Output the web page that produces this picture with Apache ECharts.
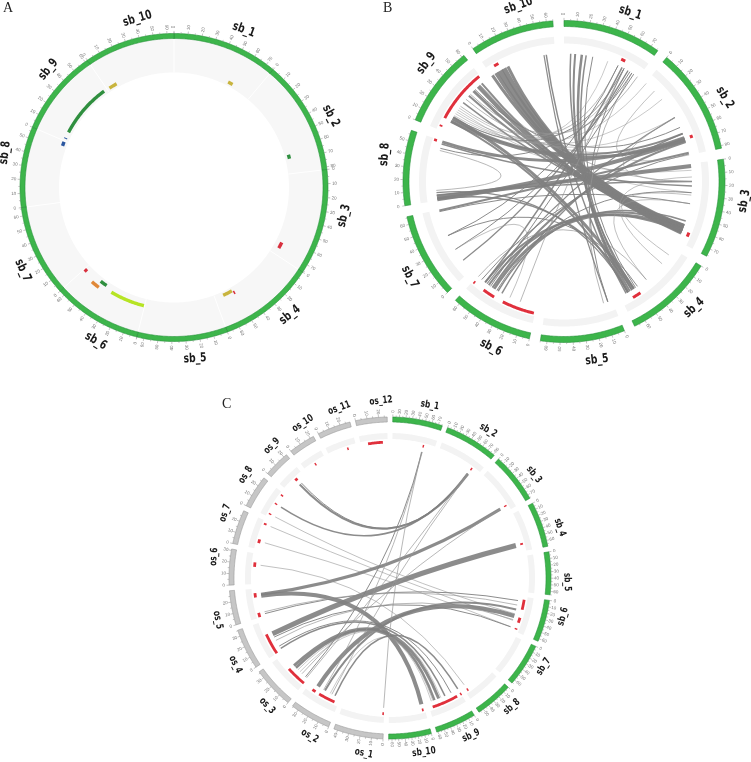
<!DOCTYPE html>
<html><head><meta charset="utf-8">
<script src="https://cdn.jsdelivr.net/npm/echarts@6/dist/echarts.min.js"></script>
<style>html,body{margin:0;padding:0;background:#fff}#c{width:751px;height:762px}</style>
</head><body><div id="c"></div>
<script>
// ================= DATA =================
const sbNames = ['sb_1','sb_2','sb_3','sb_4','sb_5','sb_6','sb_7','sb_8','sb_9','sb_10'];
const sbLengths = [76, 82, 76, 69, 65, 64, 66, 58, 62, 65];           // Mb
const osNames = ['os_1','os_2','os_3','os_4','os_5','os_6','os_7','os_8','os_9','os_10','os_11','os_12'];
const osLengths = [43.3, 35.9, 36.4, 35.5, 29.9, 31.2, 29.7, 28.4, 23.0, 23.2, 29.0, 27.5]; // Mb

// Panel A: feature tiles [chromosome, start Mb, end Mb, class]
const tilesA = [
  ['sb_1', 51.6, 56.2, 'F1'],
  ['sb_2', 64.4, 68.2, 'F2'],
  ['sb_3', 64.0, 69.7, 'F3'],
  ['sb_4', 52.0, 61.0, 'F1'],
  ['sb_4', 50.2, 51.6, 'F3'],
  ['sb_6', 0.6, 32.1, 'F4'],
  ['sb_6', 39.0, 45.6, 'F2'],
  ['sb_6', 43.7, 51.3, 'F5'],
  ['sb_6', 60.8, 63.6, 'F3'],
  ['sb_8', 53.1, 57.0, 'F6'],
  ['sb_9', 2.2, 3.0, 'F6'],
  ['sb_9', 8.6, 58.7, 'F2'],
  ['sb_10', 2.4, 10.0, 'F1']
];

// Panel B: highlighted regions [chromosome, start Mb, end Mb]
const regionsB = [
  ['sb_1', 53.5, 57.5], ['sb_2', 64.5, 67.5], ['sb_3', 64.5, 68.5], ['sb_4', 51, 59],
  ['sb_6', 1, 31], ['sb_6', 40, 51.5], ['sb_6', 61.5, 63], ['sb_8', 55.5, 57.8],
  ['sb_9', 3.3, 4.8], ['sb_9', 11.7, 61], ['sb_10', 7, 11.5]
];
// Panel B: links [chrA, posA, chrB, posB, size]
const linksB = [
  ['sb_10', 9.5, 'sb_3', 63.9, 6], ['sb_10', 13.8, 'sb_3', 61.8, 5], ['sb_10', 5.2, 'sb_3', 66.1, 4],
  ['sb_10', 18, 'sb_3', 59.7, 3], ['sb_10', 1, 'sb_3', 63.9, 3],
  ['sb_9', 54.4, 'sb_3', 66.1, 4], ['sb_9', 48, 'sb_3', 61.8, 3], ['sb_9', 58.7, 'sb_3', 68.2, 2],
  ['sb_9', 41.6, 'sb_3', 63.9, 2], ['sb_9', 33.1, 'sb_3', 59.7, 1.5],
  ['sb_9', 16, 'sb_2', 0.8, 0.6], ['sb_9', 20.3, 'sb_2', 22.2, 0.6], ['sb_9', 26.7, 'sb_2', 43.5, 0.6],
  ['sb_9', 22.4, 'sb_1', 64, 0.6], ['sb_9', 28.8, 'sb_1', 53.3, 0.8], ['sb_9', 37.3, 'sb_2', 64.8, 0.8],
  ['sb_9', 13.9, 'sb_3', 6.3, 0.6], ['sb_9', 24.5, 'sb_3', 27.7, 0.6], ['sb_9', 18.1, 'sb_1', 42.7, 0.6],
  ['sb_9', 43.7, 'sb_1', 74.7, 0.8], ['sb_9', 50.1, 'sb_2', 54.2, 1], ['sb_9', 56.5, 'sb_3', 17, 0.8],
  ['sb_8', 48.4, 'sb_8', 10, 0.8],
  ['sb_9', 16, 'sb_4', 54.1, 3], ['sb_9', 11.7, 'sb_4', 60.5, 2],
  ['sb_8', 56.9, 'sb_2', 64.8, 3], ['sb_8', 54.8, 'sb_3', 21.3, 1.5], ['sb_8', 1.4, 'sb_2', 67, 4],
  ['sb_8', 3.6, 'sb_3', 2.1, 4], ['sb_7', 65, 'sb_2', 79.8, 2], ['sb_8', 5.7, 'sb_3', 17, 1.5],
  ['sb_7', 64, 'sb_3', 38.3, 1],
  ['sb_6', 43.9, 'sb_3', 63.9, 2.5], ['sb_6', 50.3, 'sb_3', 59.7, 2], ['sb_6', 39.6, 'sb_3', 55.4, 1.5],
  ['sb_6', 54.6, 'sb_3', 66.1, 2], ['sb_6', 46, 'sb_2', 69.1, 2], ['sb_6', 35.4, 'sb_2', 60.6, 1.5],
  ['sb_6', 58.8, 'sb_2', 81, 1], ['sb_6', 41, 'sb_3', 27.7, 1], ['sb_6', 52.4, 'sb_2', 43.5, 1.2],
  ['sb_6', 63.1, 'sb_4', 39.2, 0.8],
  ['sb_4', 58.4, 'sb_1', 10.7, 2], ['sb_4', 60.5, 'sb_1', 17.1, 2.5], ['sb_4', 54.1, 'sb_1', 6.4, 1.5],
  ['sb_4', 56.2, 'sb_1', 21.3, 1.5], ['sb_4', 62.6, 'sb_10', 56.5, 1.5], ['sb_4', 52, 'sb_1', 27.7, 1],
  ['sb_4', 56.2, 'sb_8', 1.4, 1.5], ['sb_4', 60.5, 'sb_8', 7.8, 1.2], ['sb_4', 49.8, 'sb_7', 39.7, 1],
  ['sb_5', 4.3, 'sb_1', 59.7, 1], ['sb_5', 8.6, 'sb_1', 68.3, 0.8],
  ['sb_1', 57.6, 'sb_6', 54.6, 1.5], ['sb_1', 64, 'sb_7', 11.9, 1.2], ['sb_1', 70.4, 'sb_6', 48.2, 1],
  ['sb_1', 53.3, 'sb_7', 39.7, 1], ['sb_1', 59.7, 'sb_6', 16.2, 0.8], ['sb_1', 66.1, 'sb_7', 24.7, 1],
  ['sb_1', 59.7, 'sb_9', 16, 1], ['sb_1', 68.3, 'sb_8', 50.5, 1], ['sb_10', 54.3, 'sb_5', 4.3, 1.2],
  ['sb_9', 11.7, 'sb_2', 67, 3], ['sb_9', 14, 'sb_2', 60.6, 2],
  ['sb_3', 12.7, 'sb_4', 17.8, 0.7], ['sb_3', 17, 'sb_2', 43.5, 0.7], ['sb_3', 30, 'sb_4', 7.2, 0.7],
  ['sb_2', 81.9, 'sb_2', 11.5, 0.7], ['sb_3', 38.3, 'sb_4', 39.2, 0.7], ['sb_7', 24.7, 'sb_6', 26.8, 0.7]
];

// Panel C: highlighted regions [chromosome, start Mb, end Mb]
const regionsC = [
  ['sb_1', 54.5, 57], ['sb_2', 65.5, 68], ['sb_3', 65, 67.5], ['sb_4', 54, 57.5],
  ['sb_6', 5.1, 23.3], ['sb_6', 38.1, 47.4], ['sb_6', 58.5, 60], ['sb_8', 52, 53.5],
  ['sb_9', 0, 1.2], ['sb_9', 8.3, 56], ['sb_10', 2.5, 5.5],
  ['os_1', 0.2, 1.8], ['os_2', 4.1, 21.7], ['os_2', 26.1, 29.9], ['os_3', 0, 21.1], ['os_4', 0, 22.1],
  ['os_5', 0.5, 5], ['os_5', 21, 25.5], ['os_6', 17.5, 22], ['os_7', 6, 10], ['os_7', 25.5, 27.5],
  ['os_8', 3, 3.6], ['os_8', 14.5, 16], ['os_8', 25, 26.5], ['os_9', 13, 16], ['os_10', 11, 12.3],
  ['os_11', 19.5, 21], ['os_12', 7.5, 22.7]
];
// Panel C: links [chrA, posA, chrB, posB, size]
const linksC = [
  ['os_9', 13.4, 'sb_2', 67.8, 2], ['os_9', 15.8, 'sb_2', 66, 1], ['os_8', 15.3, 'sb_2', 65.5, 1.5],
  ['os_8', 3.2, 'sb_6', 33.9, 0.7], ['os_7', 26.4, 'sb_6', 46.5, 0.7], ['os_7', 8, 'sb_6', 59.3, 0.7],
  ['sb_3', 66.2, 'os_5', 23.5, 3], ['sb_4', 55.8, 'os_4', 20, 5], ['os_5', 22, 'sb_10', 3.8, 4],
  ['os_5', 2.5, 'sb_6', 8.4, 1], ['os_5', 4.5, 'sb_6', 16.9, 0.8],
  ['os_2', 27, 'sb_6', 38.1, 4], ['os_2', 18.3, 'sb_6', 25.4, 2],
  ['os_3', 20, 'sb_9', 40.4, 3], ['os_4', 2, 'sb_9', 27.7, 1.5], ['os_4', 5, 'sb_9', 15, 1],
  ['os_3', 17, 'sb_9', 48.9, 2.5], ['os_3', 14, 'sb_9', 52, 0.6], ['os_3', 11, 'sb_9', 55, 0.6],
  ['os_2', 12, 'sb_9', 36, 0.6], ['os_3', 3, 'sb_1', 55.8, 1], ['os_2', 20, 'sb_1', 56.5, 0.8],
  ['os_2', 10, 'sb_2', 66.6, 0.8], ['os_3', 1.5, 'sb_2', 65.5, 0.8], ['os_1', 0.8, 'sb_1', 55, 0.8],
  ['os_3', 8, 'sb_3', 66.2, 0.8], ['os_4', 16, 'sb_6', 59.3, 1], ['os_4', 12, 'sb_6', 45, 0.8],
  ['os_2', 6.3, 'sb_9', 0.6, 1.5], ['os_6', 19.7, 'sb_8', 52.8, 0.7]
];

// ================= LAYOUT / STYLE =================
const tileStyle = {
  F1: {color: '#c8b43e', r: 118.5}, F2: {color: '#2f8f3f', r: 119}, F3: {color: '#d8303e', r: 121},
  F4: {color: '#b6e424', r: 122}, F5: {color: '#e08838', r: 125}, F6: {color: '#2b57a0', r: 119}
};
const GREEN = '#3db54b', GREEN_D = '#26913a', GREY = '#c6c6c6', GREY_D = '#9a9a9a', RED = '#e0303c';
const LABEL_FONT = 'Liberation Sans Narrow, DejaVu Sans Condensed, Liberation Sans, sans-serif';

function buildLayout(chroms, gap, offset) {
  const map = {}; let u = offset; const list = [];
  chroms.forEach(c => { const o = {name: c.name, len: c.len, scale: c.scale, kind: c.kind, start: u};
    map[c.name] = o; list.push(o); u += c.len * c.scale + gap; });
  return {map, list, total: u - offset};
}
const sbChroms = sbNames.map((n, i) => ({name: n, len: sbLengths[i], scale: 1, kind: 'sb'}));
const osChroms = osNames.map((n, i) => ({name: n, len: osLengths[i], scale: 1.752, kind: 'os'}));

const panels = [
  {lay: buildLayout(sbChroms, 0, 0), center: [174, 187.5], R: 154, ring: [149, 154], track: [115, 149],
   tickR: 154, tickLabelR: 160.5, labelR: 172, labelSize: 12.5, tiles: tilesA},
  {lay: buildLayout(sbChroms, 8.5, 0), center: [564, 181.5], R: 161, ring: [155, 161], band: [138, 145],
   red: [133.5, 136.5], linkR: 128, tickR: 161, tickLabelR: 167.5, labelR: 181, labelSize: 12.5,
   regions: regionsB, links: linksB},
  {lay: buildLayout(sbChroms.concat(osChroms), 8.5, 4.25), center: [390, 578], R: 161, ring: [156, 161],
   band: [139, 145], red: [134.5, 137.3], linkR: 130, tickR: 161, tickLabelR: 166.5, labelR: 177, labelSize: 10,
   regions: regionsC, links: linksC}
];

function arcPoints(api, a0, a1, r0, r1, upd) {
  const n = Math.max(2, Math.ceil(Math.abs(a1 - a0) / upd / 0.5) + 1);
  const pts = [];
  for (let i = 0; i < n; i++) pts.push(api.coord([r1, a0 + (a1 - a0) * i / (n - 1)]));
  for (let i = n - 1; i >= 0; i--) pts.push(api.coord([r0, a0 + (a1 - a0) * i / (n - 1)]));
  return pts;
}
function norm(d) { return ((d % 360) + 360) % 360; }
function tangentRot(deg) { const d = norm(deg); const r = (d > 90 && d < 270) ? d - 180 : (d >= 270 ? d - 360 : d); return -r * Math.PI / 180; }
function radialRot(deg) { const d = norm(deg); const r = d < 180 ? 90 - d : 270 - d; return r * Math.PI / 180; }

const series = [];
panels.forEach((P, pi) => {
  const lay = P.lay, total = lay.total, upd = total / 360;
  const toDeg = a => a / total * 360;
  const pos = (name, p) => lay.map[name].start + p * lay.map[name].scale;
  const base = {type: 'custom', coordinateSystem: 'polar', polarIndex: pi, silent: true, animation: false};

  if (P.track) {
    series.push(Object.assign({}, base, {
      data: [[P.track[0], 0]],
      renderItem: (params, api) => {
        const children = [{type: 'polygon', shape: {points: arcPoints(api, 0, total * 0.99999, P.track[0], P.track[1], upd)},
          style: {fill: '#f7f7f7'}}];
        lay.list.forEach(c => {
          const p0 = api.coord([P.track[0], c.start]), p1 = api.coord([P.track[1], c.start]);
          children.push({type: 'line', shape: {x1: p0[0], y1: p0[1], x2: p1[0], y2: p1[1]}, style: {stroke: '#ffffff', lineWidth: 1}});
        });
        return {type: 'group', children};
      }
    }));
  }
  if (P.band) {
    series.push(Object.assign({}, base, {
      data: lay.list.map(c => [P.band[0], c.start]),
      renderItem: (params, api) => {
        const c = lay.list[params.dataIndex];
        return {type: 'polygon', shape: {points: arcPoints(api, c.start, c.start + c.len * c.scale, P.band[0], P.band[1], upd)},
          style: {fill: '#f3f3f3'}};
      }
    }));
  }
  series.push(Object.assign({}, base, {
    data: lay.list.map(c => [P.ring[0], c.start]),
    renderItem: (params, api) => {
      const c = lay.list[params.dataIndex];
      const sb = c.kind === 'sb';
      return {type: 'polygon', shape: {points: arcPoints(api, c.start, c.start + c.len * c.scale, P.ring[0], P.ring[1], upd)},
        style: {fill: sb ? GREEN : GREY, stroke: sb ? GREEN_D : GREY_D, lineWidth: 0.6}};
    }
  }));
  series.push(Object.assign({}, base, {
    data: lay.list.map(c => [P.tickR, c.start]),
    renderItem: (params, api) => {
      const c = lay.list[params.dataIndex];
      const children = [];
      for (let p = 0; p <= c.len + 1e-6; p += 5) {
        const a = c.start + p * c.scale, major = (p % 10 === 0);
        const q0 = api.coord([P.tickR, a]), q1 = api.coord([P.tickR + (major ? 2.6 : 1.6), a]);
        children.push({type: 'line', shape: {x1: q0[0], y1: q0[1], x2: q1[0], y2: q1[1]}, style: {stroke: '#8a8a8a', lineWidth: 0.5}});
        if (major) {
          const t = api.coord([P.tickLabelR, a]);
          children.push({type: 'text', x: t[0], y: t[1], rotation: radialRot(toDeg(a)),
            style: {text: String(p), fontSize: 4.5, fontFamily: 'Liberation Sans, sans-serif',
              fill: '#777', align: 'center', verticalAlign: 'middle'}});
        }
      }
      return {type: 'group', children};
    }
  }));
  series.push(Object.assign({}, base, {
    data: lay.list.map(c => [P.labelR, c.start]),
    renderItem: (params, api) => {
      const c = lay.list[params.dataIndex];
      const a = c.start + c.len * c.scale / 2;
      const t = api.coord([P.labelR, a]);
      return {type: 'text', x: t[0], y: t[1], rotation: tangentRot(toDeg(a)), scaleX: 0.82,
        style: {text: c.name, fontSize: P.labelSize, fontWeight: 'bold',
          fontFamily: LABEL_FONT, fill: '#1a1a1a', align: 'left', verticalAlign: 'middle'}};
    }
  }));
  if (P.tiles) {
    series.push(Object.assign({}, base, {
      data: P.tiles.map(t => [tileStyle[t[3]].r, pos(t[0], t[1])]),
      renderItem: (params, api) => {
        const t = P.tiles[params.dataIndex], s = tileStyle[t[3]];
        return {type: 'polygon', shape: {points: arcPoints(api, pos(t[0], t[1]), pos(t[0], t[2]), s.r - 1.7, s.r + 1.7, upd)},
          style: {fill: s.color}};
      }
    }));
  }
  if (P.links) {
    series.push(Object.assign({}, base, {
      data: P.links.map(l => [P.linkR, pos(l[0], l[1])]),
      renderItem: (params, api) => {
        const l = P.links[params.dataIndex];
        const p1 = api.coord([P.linkR, pos(l[0], l[1])]), p2 = api.coord([P.linkR, pos(l[2], l[3])]), c = api.coord([0, 0]);
        return {type: 'bezierCurve', shape: {x1: p1[0], y1: p1[1], x2: p2[0], y2: p2[1], cpx1: c[0], cpy1: c[1]},
          style: {fill: null, stroke: l[4] < 1 ? 'rgba(150,150,150,0.85)' : 'rgba(128,128,128,0.9)', lineWidth: l[4]}};
      }
    }));
  }
  if (P.regions) {
    series.push(Object.assign({}, base, {
      data: P.regions.map(g => [P.red[0], pos(g[0], g[1])]),
      renderItem: (params, api) => {
        const g = P.regions[params.dataIndex];
        let a0 = pos(g[0], g[1]), a1 = pos(g[0], g[2]);
        if (a1 - a0 < upd * 0.6) { const m = (a0 + a1) / 2; a0 = m - upd * 0.3; a1 = m + upd * 0.3; }
        return {type: 'polygon', shape: {points: arcPoints(api, a0, a1, P.red[0], P.red[1], upd)}, style: {fill: RED}};
      }
    }));
  }
});

const chart = echarts.init(document.getElementById('c'), null, {renderer: 'canvas'});
chart.setOption({
  animation: false,
  backgroundColor: '#ffffff',
  polar: panels.map(P => ({center: P.center, radius: P.R})),
  angleAxis: panels.map((P, i) => ({polarIndex: i, type: 'value', min: 0, max: P.lay.total, startAngle: 90, clockwise: true, show: false})),
  radiusAxis: panels.map((P, i) => ({polarIndex: i, type: 'value', min: 0, max: P.R, show: false})),
  graphic: [
    {type: 'text', left: 3, top: 1, style: {text: 'A', fontSize: 14, fontFamily: 'Liberation Serif, serif', fill: '#222'}},
    {type: 'text', left: 383, top: 1, style: {text: 'B', fontSize: 14, fontFamily: 'Liberation Serif, serif', fill: '#222'}},
    {type: 'text', left: 222, top: 397, style: {text: 'C', fontSize: 14, fontFamily: 'Liberation Serif, serif', fill: '#222'}}
  ],
  series
});
</script>
</body></html>
